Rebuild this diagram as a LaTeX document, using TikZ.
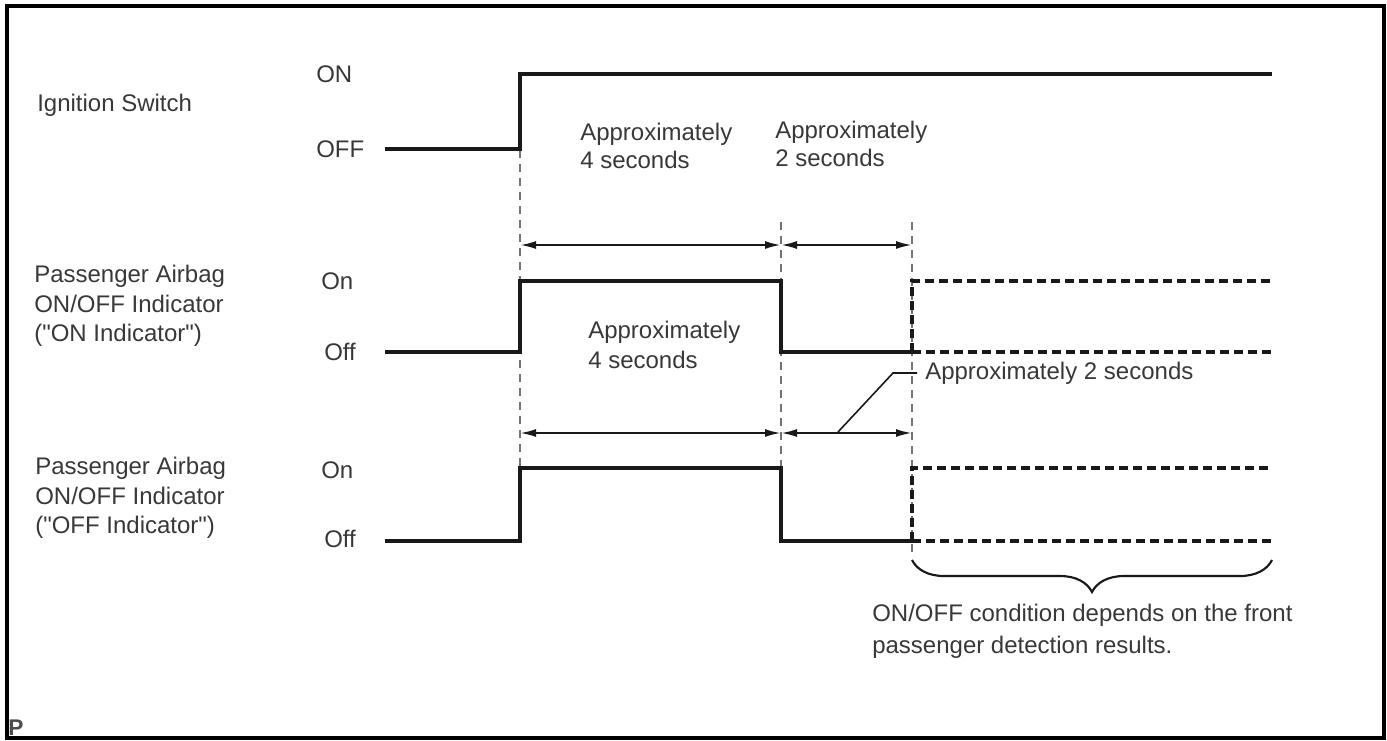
\documentclass[tikz,border=0pt]{standalone}
\usepackage{fontspec}
\setmainfont{Liberation Sans}[Ligatures=TeXOff]
\usetikzlibrary{arrows.meta,decorations.pathreplacing}
\begin{document}
\begin{tikzpicture}[x=0.75pt,y=-0.75pt,
  sig/.style={line width=2.7pt, line join=miter, black!90},
  sigdash/.style={line width=2.7pt, black!90, dash pattern=on 7pt off 3.5pt},
  guide/.style={line width=0.8pt, black!55, dash pattern=on 6pt off 4.5pt},
  dimline/.style={line width=1.6pt, black!90, {Latex[length=12pt,width=6pt]}-{Latex[length=12pt,width=6pt]}},
  lbl/.style={font=\fontsize{18}{21}\selectfont, text=black!78, inner sep=0pt, anchor=west, align=left},
  lblb/.style={lbl, font=\fontsize{18}{22}\selectfont},
  lblc/.style={lbl, font=\fontsize{18}{24}\selectfont},
  frame/.style={line width=2.8pt, black}
]
\useasboundingbox (0,0) rectangle (1387,740);
\draw[frame] (7,6) rectangle (1384,738);

% guide lines
\coordinate (ga1) at (520,150); \coordinate (ga2) at (520,541);
\coordinate (gb1) at (781,222); \coordinate (gb2) at (781,541);
\coordinate (gc1) at (912,222); \coordinate (gc2) at (912,558);
\draw[guide] (ga1) -- (ga2);
\draw[guide] (gb1) -- (gb2);
\draw[guide] (gc1) -- (gc2);

% labels left
\node[lbl] (ign) at (37,105) {Ignition Switch};
\node[lbl] (ion) at (316,74) {ON};
\node[lbl] (ioff) at (316,149) {OFF};
\node[lblb] (p1) at (34,306) {Passenger Airbag\\ON/OFF Indicator\\("ON Indicator")};
\node[lbl] (p1on) at (321,281) {On};
\node[lbl] (p1off) at (324,352) {Off};
\node[lblb] (p2) at (35,498) {Passenger Airbag\\ON/OFF Indicator\\("OFF Indicator")};
\node[lbl] (p2on) at (321,470) {On};
\node[lbl] (p2off) at (324,539) {Off};

% ignition signal
\draw[sig] (385,149) -- (520,149) -- (520,74) -- (1272,74);

% signal 2
\draw[sig] (385,352) -- (520,352) -- (520,281) -- (781,281) -- (781,352) -- (912,352);
\draw[sigdash] (912,352) -- (912,281) -- (1272,281);
\draw[sigdash] (912,352) -- (1272,352);

% signal 3
\draw[sig] (385,541) -- (520,541) -- (520,468) -- (781,468) -- (781,541) -- (912,541);
\draw[sigdash] (912,541) -- (912,468) -- (1272,468);
\draw[sigdash] (912,541) -- (1272,541);

% dimension arrows
\coordinate (d1a) at (520,245); \coordinate (d1b) at (781,245); \coordinate (d1c) at (912,245);
\coordinate (d2a) at (520,433); \coordinate (d2b) at (781,433); \coordinate (d2c) at (912,433);
\draw[dimline] (d1a) -- (d1b);
\draw[dimline] (d1b) -- (d1c);
\draw[dimline] (d2a) -- (d2b);
\draw[dimline] (d2b) -- (d2c);

% texts
\node[lbl] (t4a) at (580,146) {Approximately\\4 seconds};
\node[lbl] (t2a) at (775,144) {Approximately\\2 seconds};
\node[lblb] (t4b) at (588,345) {Approximately\\4 seconds};
\node[lbl] (t2b) at (925,373) {Approximately 2 seconds};
\coordinate (ldr) at (838,432);
\draw[line width=1.2pt, black!90] (t2b.west) ++(-8,0) coordinate (ldk) -- (893,373) -- (ldr);

% brace
\coordinate (br1) at (912,560); \coordinate (br2) at (1272,560);
\draw[line width=1.6pt, black!90, decorate, decoration={brace, mirror, amplitude=24pt}] (br1) -- (br2);
\node[lblc] (cond) at (872,631) {ON/OFF condition depends on the front\\passenger detection results.};

\node[lbl, font=\fontsize{17}{20}\selectfont\bfseries, text=black!70] (pp) at (8,728) {P};
\end{tikzpicture}
\end{document}
